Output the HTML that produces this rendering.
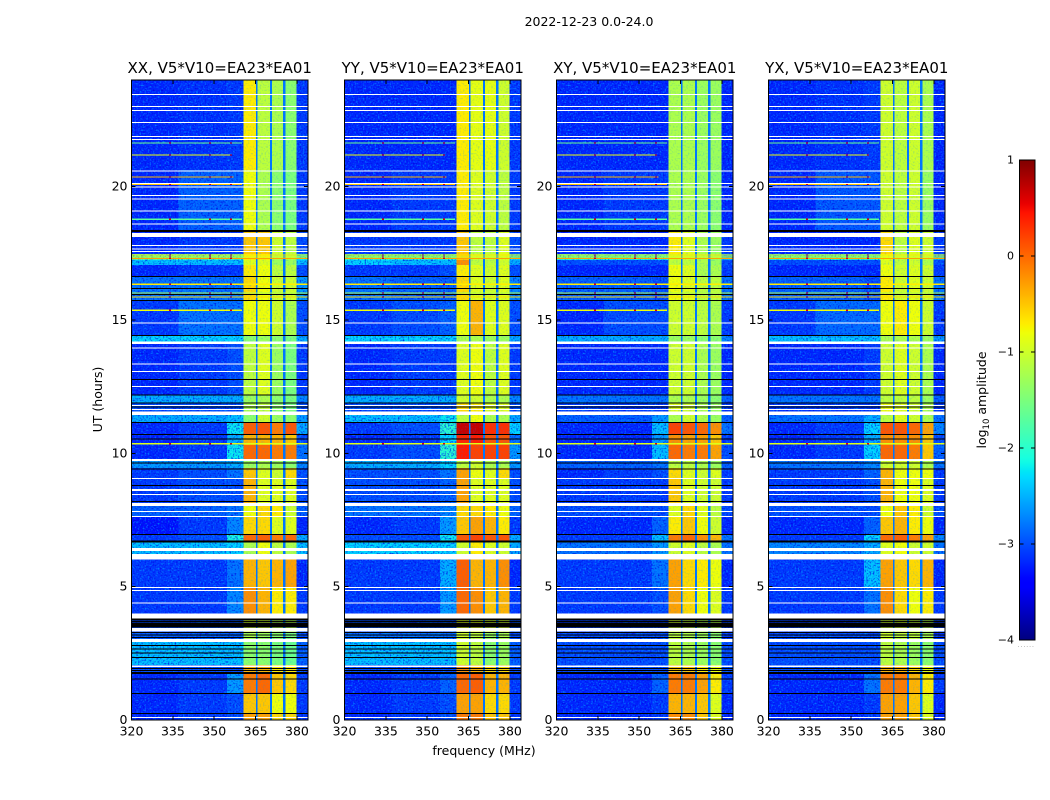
<!DOCTYPE html>
<html>
<head>
<meta charset="utf-8">
<title>2022-12-23 amplitude waterfall</title>
<style>
html,body{margin:0;padding:0;background:#fff;}
svg{display:block;font-family:"DejaVu Sans","Liberation Sans",sans-serif;fill:#000;}
</style>
</head>
<body>
<svg id="figure" xmlns="http://www.w3.org/2000/svg" width="1050" height="800" viewBox="0 0 1050 800">
  <defs>
    <filter id="speck-light" x="0" y="0" width="100%" height="100%" color-interpolation-filters="sRGB">
      <feTurbulence type="fractalNoise" baseFrequency="0.6" numOctaves="1" seed="3"/>
      <feColorMatrix type="matrix" values="0 0 0 0 0  0 0 0 0 0.55  0 0 0 0 1  3 0 0 0 -1.5"/>
    </filter>
    <filter id="speck-dark" x="0" y="0" width="100%" height="100%" color-interpolation-filters="sRGB">
      <feTurbulence type="fractalNoise" baseFrequency="0.6" numOctaves="1" seed="11"/>
      <feColorMatrix type="matrix" values="0 0 0 0 0  0 0 0 0 0  0 0 0 0 0.88  2.6 0 0 0 -1.3"/>
    </filter>
    <linearGradient id="colorbar-gradient" x1="0" y1="1" x2="0" y2="0"></linearGradient>
  </defs>
  <text x="589" y="26" font-size="12.5" text-anchor="middle">2022-12-23 0.0-24.0</text>
  <text transform="translate(102,399.5) rotate(-90)" font-size="12.5" text-anchor="middle">UT (hours)</text>
  <text x="484" y="755" font-size="12.5" text-anchor="middle">frequency (MHz)</text>
  <text transform="translate(986,400) rotate(-90)" font-size="12.5" text-anchor="middle">log<tspan font-size="8.5" dy="3">10</tspan><tspan dy="-3"> amplitude</tspan></text>
  <g id="panels"></g>
  <g id="colorbar"></g>
</svg>
<script>
// ---- chart data ----
const panelTitles = ["XX, V5*V10=EA23*EA01", "YY, V5*V10=EA23*EA01", "XY, V5*V10=EA23*EA01", "YX, V5*V10=EA23*EA01"];
const xTicks = [320, 335, 350, 365, 380];
const yTicks = [0, 5, 10, 15, 20];
const cbTicks = [1, 0, -1, -2, -3, -4];
const cbLabels = ["1", "0", "\u22121", "\u22122", "\u22123", "\u22124"];
// frequency band edges (MHz): three background bands, four windows, right edge band
const bandStart = [320, 337, 354.6, 360.6, 365.6, 370.8, 375.7, 379.9];
const bandEnd = [337, 354.6, 360.6, 365.1, 370.2, 375, 379.9, 384];
// narrow notches between the windows (MHz)
const notchStart = [365.1, 370.2, 375];
const notchEnd = [365.7, 370.9, 375.8];
const notchLevel = -2.8;
// time row edges (UT hours), descending
const timeEdges = [24, 20.63, 18.30, 17.48, 17.25, 17.06, 16.65, 15.75, 14.40, 14.18, 12.19, 11.89, 11.44, 11.18, 10.73, 10.31, 9.79, 9.45, 9.08, 8.14, 7.65, 6.98, 6.68, 6.04, 4.99, 3.98, 3.30, 2.93, 2.06, 1.73, 1.01, 0.26, 0];
// log10 amplitude per time row and band
const levelsXX = [
[-3.2,-3.15,-3.1,-.7,-1.1,-1.2,-1.4,-3.1],[-3.2,-2.9,-2.9,-.8,-1.2,-1.4,-1.5,-3.1],[-3.2,-3.1,-3.1,-.5,-.5,-1,-1.1,-3],[-1.7,-1.8,-1.9,-.7,-.7,-1.2,-1.2,-2.2],
[-2.4,-2.4,-2.4,-.9,-.9,-1.3,-1.3,-2.4],[-3.2,-3.1,-3.1,-.7,-.8,-1.1,-1.1,-3],[-2.8,-2.8,-2.8,-.6,-.8,-1,-1,-2.6],[-3.1,-2.8,-2.8,-.8,-.8,-1,-1.2,-3],
[-2.3,-2.3,-2.3,-1.4,-1.3,-1.4,-1.5,-2.5],[-3.2,-3.1,-3,-1.1,-.9,-1.3,-1.5,-3.1],[-2.5,-2.5,-2.5,-1.3,-1.2,-1.4,-1.5,-2.7],[-3,-3,-3,-1.2,-1.1,-1.4,-1.5,-3],
[-2.5,-2.5,-2.4,-1.4,-1,-1.3,-1.4,-2.6],[-3.2,-3.1,-2.2,.05,.1,-.1,.1,-2.5],[-3.2,-3.1,-2.5,-.4,-.4,-.4,-.5,-3],[-3.2,-3.1,-2.2,0,0,-.1,-.1,-2.8],
[-2.6,-2.6,-2.5,-1.3,-1.2,-1.3,-1.4,-2.7],[-3.1,-3,-2.8,-.5,-.9,-1,-.6,-3],[-3.1,-3,-3,-.4,-.9,-.9,-.9,-3],[-2.9,-2.9,-2.8,-.8,-.6,-.7,-1,-2.9],
[-3.3,-3.1,-2.7,-.6,-.6,-.9,-.9,-3.2],[-3.1,-3,-2.1,0,.05,-.1,0,-2.5],[-2.4,-2.4,-2.3,-1.2,-.8,-1.1,-1.2,-2.4],[-3.1,-3.1,-2.8,-.4,-.5,-.4,-.3,-3.2],
[-3.1,-3.1,-2.7,-.2,-.4,-.7,-.7,-3.1],[-3,-3,-3,-1,-1,-1.2,-1.2,-3],[-2.9,-2.9,-2.9,-1.2,-1.3,-1.4,-1.5,-3],[-2.4,-2.4,-2.4,-1.4,-1.4,-1.5,-1.6,-2.9],
[-3,-3,-3,-.4,-.4,-.7,-.7,-3],[-3.2,-3.1,-2.6,-.1,0,-.5,-.6,-3.1],[-3.2,-3.1,-3,-.5,-.5,-.8,-.8,-3.1],[-3.2,-3.1,-3,-.3,-.3,-.6,-.6,-3.1]];
const levelsYY = [
[-3.2,-3.2,-3.2,-.7,-.85,-.85,-1,-3.1],[-3.2,-3.1,-3.1,-.7,-.9,-1,-1.1,-3.1],[-3.1,-3.1,-3.1,-.5,-1.1,-1.1,-.9,-3],[-1.9,-2,-2,-.5,-1,-1.1,-.9,-2.3],
[-2.3,-2.4,-2.4,-.2,-1.1,-1.1,-1,-2.5],[-3.1,-3.1,-3,-.7,-.9,-1,-.9,-3],[-2.8,-2.9,-2.9,-.6,-.9,-1,-.9,-2.7],[-3.1,-3,-2.9,-.8,-.4,-.9,-.9,-3],
[-2.3,-2.3,-2.3,-1.2,-1.2,-1.3,-1.3,-2.5],[-3.2,-3.1,-3.1,-.9,-.8,-1.1,-.9,-3.1],[-2.5,-2.5,-2.5,-1,-1,-1.2,-1.2,-2.7],[-3,-3,-3,-.6,-.7,-.9,-.9,-3],
[-2.4,-2.4,-2.2,-1.1,-.8,-1.2,-1.2,-2.5],[-3.1,-3,-2,.7,.7,.3,.3,-2.3],[-3.2,-3.1,-2.3,.35,.4,.1,.1,-2.8],[-3.1,-3,-2,.4,.2,.2,.2,-2.6],
[-2.5,-2.5,-2.3,-1.1,-1,-1.2,-1.2,-2.6],[-3,-3,-2.8,-.3,-.8,-.9,-.6,-3],[-3,-3,-2.9,-.3,-.9,-.9,-.9,-3],[-2.8,-2.8,-2.7,-.6,-.6,-.7,-.8,-2.9],
[-3.2,-3.1,-2.6,-.5,-.3,-.4,-.7,-3.1],[-3,-3,-2.2,.1,.2,.1,.1,-2.5],[-2.3,-2.3,-2.3,-1,-.7,-.9,-1,-2.5],[-3.1,-3.1,-2.5,.05,-.4,-.4,-.2,-3.2],
[-3.1,-3.1,-2.6,0,-.2,-.5,-.4,-3.1],[-3,-3,-3,-.9,-.9,-1,-1,-3],[-2.8,-2.8,-2.8,-1,-1.1,-1.3,-1.2,-3],[-2.4,-2.4,-2.4,-1,-1.1,-1.4,-1.3,-2.9],
[-3,-3,-3,-.2,-.4,-.6,-.6,-3],[-3.2,-3.1,-2.9,0,.05,-.4,-.4,-3.1],[-3.2,-3.1,-3,-.3,-.3,-.6,-.6,-3.1],[-3.2,-3.1,-3,-.1,-.1,-.5,-.5,-3.1]];
const levelsXY = [
[-3.2,-3.2,-3.2,-1.2,-1.2,-1.3,-1.3,-3.2],[-3.2,-3.1,-3.1,-1.2,-1.2,-1.3,-1.4,-3.2],[-3.2,-3.2,-3.2,-.7,-.9,-1.2,-1.3,-3.1],[-2,-2.1,-2.1,-1,-1,-1.2,-1.3,-2.5],
[-3,-3,-3,-1.1,-1.1,-1.2,-1.3,-3],[-3.2,-3.2,-3.2,-.8,-.9,-1.2,-1.2,-3.1],[-2.9,-2.9,-3,-.8,-.9,-1.1,-1.1,-2.8],[-3.2,-3,-3,-1,-1,-1.1,-1.2,-3.1],
[-2.5,-2.5,-2.5,-1.3,-1.3,-1.4,-1.4,-2.7],[-3.2,-3.2,-3.2,-1,-1,-1.2,-1.3,-3.2],[-2.8,-2.8,-2.8,-1.2,-1.2,-1.3,-1.4,-2.9],[-3.1,-3.1,-3.1,-.9,-1,-1.2,-1.3,-3.1],
[-2.9,-2.9,-2.6,-1.2,-1,-1.2,-1.3,-2.9],[-3.2,-3.2,-2.4,.2,.1,0,-.2,-2.8],[-3.2,-3.2,-2.6,-.2,-.3,-.3,-.5,-3.1],[-3.2,-3.2,-2.4,0,-.1,-.1,-.3,-3],
[-2.9,-2.9,-2.8,-1.1,-1.1,-1.2,-1.3,-2.9],[-3.2,-3.1,-3,-.6,-.9,-1,-.9,-3.1],[-3.1,-3.1,-3.1,-.5,-.9,-1,-1,-3.1],[-3,-3,-3,-.9,-.6,-.9,-1.1,-3],
[-3.2,-3.2,-2.9,-.7,-.5,-.8,-1,-3.2],[-3.1,-3.1,-2.4,-.1,0,-.2,-.4,-2.8],[-2.8,-2.8,-2.6,-1,-.9,-1.1,-1.2,-2.8],[-3.1,-3.1,-2.8,-.3,-.6,-.7,-.8,-3.2],
[-3.1,-3.1,-3,-.3,-.6,-.8,-.9,-3.1],[-3.1,-3.1,-3.1,-1,-1.1,-1.2,-1.2,-3.1],[-3,-3,-3,-1.1,-1.2,-1.3,-1.4,-3.1],[-3,-3,-3,-1.1,-1.2,-1.3,-1.4,-3],
[-3,-3,-3,-.5,-.5,-.7,-.8,-3],[-3.2,-3.2,-2.9,-.1,-.1,-.3,-.7,-3.1],[-3.2,-3.2,-3.1,-.4,-.4,-.5,-.9,-3.2],[-3.2,-3.2,-3.1,-.2,-.2,-.5,-.9,-3.2]];
const levelsYX = [
[-3.2,-3.15,-3.1,-1,-1.1,-1,-1.2,-3.2],[-3.2,-2.95,-2.95,-1,-1.1,-1,-1.3,-3.2],[-3.2,-3.2,-3.2,-.6,-1.1,-.9,-1,-3.1],[-2,-2,-2.1,-.8,-1.1,-1,-1.1,-2.5],
[-3,-3,-3,-.9,-1.1,-1,-1.2,-3],[-3.2,-3.2,-3.2,-.8,-1,-.9,-1,-3.1],[-2.9,-2.9,-3,-.7,-1,-.9,-1,-2.8],[-3.1,-2.85,-2.85,-.8,-.7,-.8,-1,-3.1],
[-2.4,-2.4,-2.4,-1.2,-1.2,-1.2,-1.3,-2.6],[-3.2,-3.2,-3.1,-1,-.9,-1,-1.2,-3.2],[-2.8,-2.8,-2.8,-1.1,-1.1,-1.1,-1.3,-2.9],[-3.1,-3.1,-3.1,-.8,-.9,-1,-1.2,-3.1],
[-2.8,-2.8,-2.5,-1.1,-.9,-1,-1.2,-2.8],[-3.2,-3.1,-2.3,.1,.1,0,-.3,-2.7],[-3.2,-3.1,-2.5,-.2,-.2,-.2,-.5,-3],[-3.2,-3.1,-2.3,0,0,-.1,-.5,-2.9],
[-2.8,-2.8,-2.7,-1,-1,-1,-1.2,-2.8],[-3.1,-3.1,-2.9,-.4,-.8,-.8,-.8,-3.1],[-3.1,-3.1,-3,-.4,-.8,-.8,-.9,-3.1],[-3,-3,-3,-.8,-.5,-.7,-1,-3],
[-3.2,-3.2,-2.9,-.5,-.4,-.7,-.8,-3.2],[-3.1,-3.1,-2.3,0,.05,-.1,-.3,-2.7],[-2.7,-2.7,-2.5,-.9,-.8,-1,-1,-2.8],[-3.1,-3.1,-2.4,-.3,-.5,-.6,-.4,-3.2],
[-3.1,-3.1,-2.8,-.2,-.6,-.8,-.7,-3.1],[-3.1,-3.1,-3.1,-1,-1,-1.1,-1.2,-3.1],[-3,-3,-3,-1,-1.1,-1.1,-1.2,-3.1],[-3,-3,-3,-1.1,-1.2,-1.3,-1.4,-3],
[-3,-3,-3,-.4,-.4,-.6,-.8,-3],[-3.2,-3.2,-2.8,-.1,-.1,-.4,-.7,-3.1],[-3.2,-3.2,-3.1,-.3,-.3,-.5,-.9,-3.2],[-3.2,-3.2,-3.1,-.3,-.3,-.5,-.9,-3.2]];
// interference rows: UT, level, last affected frequency
const rfiTimes = [21.66, 21.21, 20.39, 20.10, 18.80, 17.46, 17.38, 17.33, 16.36, 16.04, 15.89, 15.39, 10.38, 3.77, 2.04];
const rfiLevels = [-1.6, -0.8, -0.4, -0.5, -1.7, -0.7, -0.9, -0.3, -0.7, -1.2, -0.6, -0.8, -0.9, 0.4, -0.7];
const rfiEnds = [360, 356, 357, 360, 360, 384, 384, 384, 384, 384, 384, 360, 384, 384, 384];
// strong channels on those rows (MHz)
const rfiSpots = [334, 348.5, 356];
const rfiSpotLevel = 0.6;
// flagged-out rows (blank) and zero rows (black)
const blankLines = [23.46, 23.00, 22.86, 22.41, 21.88, 21.77, 20.59, 20.11, 19.99, 19.66, 19.53, 19.08, 18.60, 17.79, 17.66, 17.57, 14.88, 13.95, 13.35, 13.06, 12.51, 11.79, 11.65, 9.06, 8.45, 7.81, 7.64, 6.03, 4.96, 4.86, 4.38, 0.10];
const blankBandTop = [18.27, 14.19, 11.56, 9.79, 8.66, 8.13, 6.45, 6.23, 3.99, 3.45, 3.04, 2.05];
const blankBandBottom = [18.12, 14.10, 11.44, 9.71, 8.59, 8.03, 6.33, 6.06, 3.81, 3.31, 2.93, 1.99];
const blackLines = [16.64, 16.18, 15.96, 15.74, 14.41, 12.76, 12.19, 11.88, 11.73, 11.16, 10.71, 10.53, 9.63, 9.42, 8.79, 8.19, 6.96, 6.72, 6.68, 3.69, 3.29, 3.19, 3.10, 2.79, 2.67, 2.51, 2.35, 1.93, 1.86, 1.53, 0.99, 0.25];
const blackBandTop = [18.38, 3.80, 3.65, 1.80];
const blackBandBottom = [18.30, 3.74, 3.46, 1.73];

// ---- layout ----
const panelLefts = [131.5, 344.5, 556.5, 768.5];
const panelLevels = [levelsXX, levelsYY, levelsXY, levelsYX];
const panelKeys = ["xx", "yy", "xy", "yx"];
const plotW = 176.5, plotTop = 80, plotBottom = 720;
const fMin = 320, fMax = 384, tMin = 0, tMax = 24, cMin = -4, cMax = 1;
const cbLeft = 1019.5, cbW = 15.5, cbTop = 160, cbBottom = 640;
const SVGNS = "http://www.w3.org/2000/svg";

function yOf(ut) { return plotBottom - (ut - tMin) / (tMax - tMin) * (plotBottom - plotTop); }
function xOf(left, f) { return left + (f - fMin) / (fMax - fMin) * plotW; }
function cbY(v) { return cbBottom - (v - cMin) / (cMax - cMin) * (cbBottom - cbTop); }
function pw(x, pts) {
  for (let i = 1; i < pts.length; i++) {
    if (x <= pts[i][0]) {
      const a = pts[i - 1], b = pts[i];
      return a[1] + (b[1] - a[1]) * (x - a[0]) / (b[0] - a[0]);
    }
  }
  return pts[pts.length - 1][1];
}
function jet(t) {
  t = Math.max(0, Math.min(1, t));
  const r = pw(t, [[0, 0], [.35, 0], [.66, 1], [.89, 1], [1, .5]]);
  const g = pw(t, [[0, 0], [.125, 0], [.375, 1], [.64, 1], [.91, 0], [1, 0]]);
  const b = pw(t, [[0, .5], [.11, 1], [.34, 1], [.65, 0], [1, 0]]);
  return "rgb(" + Math.round(r * 255) + "," + Math.round(g * 255) + "," + Math.round(b * 255) + ")";
}
function colorOf(v) { return jet((v - cMin) / (cMax - cMin)); }
function mk(tag, attrs, parent) {
  const el = document.createElementNS(SVGNS, tag);
  for (const k in attrs) el.setAttribute(k, attrs[k]);
  parent.appendChild(el);
  return el;
}
function rowRect(parent, x0, x1, top, bottom, fill) {
  return mk("rect", { x: x0, y: top, width: Math.max(x1 - x0, .5), height: Math.max(bottom - top, 1), fill: fill, "shape-rendering": "crispEdges" }, parent);
}
function tickLine(parent, x1, y1, x2, y2) {
  return mk("line", { x1: x1, y1: y1, x2: x2, y2: y2, stroke: "#000", "stroke-width": 1, "shape-rendering": "crispEdges" }, parent);
}

const panelsRoot = document.getElementById("panels");
panelLefts.forEach(function (left, p) {
  const right = left + plotW;
  const key = panelKeys[p];
  const levels = panelLevels[p];
  const g = mk("g", {}, panelsRoot);
  
  

  const title = mk("text", { x: left + plotW / 2, y: 73, "font-size": 15, "text-anchor": "middle" }, g);
  title.textContent = panelTitles[p];
  
  

  const heat = mk("g", {}, g);
  
  

  // heatmap cells
  levels.forEach(function (row, r) {
    const top = yOf(timeEdges[r]), bottom = yOf(timeEdges[r + 1]);
    row.forEach(function (v, b) {
      const cell = rowRect(heat, xOf(left, bandStart[b]), xOf(left, bandEnd[b]), top, bottom, colorOf(v));
      
      
    });
    notchStart.forEach(function (f, n) {
      const notch = rowRect(heat, xOf(left, f), xOf(left, notchEnd[n]), top, bottom, colorOf(notchLevel));
      
      
    });
  });

  // receiver noise texture on the background bands
  ["speck-light", "speck-dark"].forEach(function (fid) {
    const n1 = mk("rect", { x: left, y: plotTop, width: xOf(left, 360.6) - left, height: plotBottom - plotTop, fill: "#000", filter: "url(#" + fid + ")" }, g);
    
    
    const n2 = mk("rect", { x: xOf(left, 379.9), y: plotTop, width: right - xOf(left, 379.9), height: plotBottom - plotTop, fill: "#000", filter: "url(#" + fid + ")" }, g);
    
    
  });
  // fainter mottling on the spectral windows
  const n3 = mk("rect", { x: xOf(left, 360.6), y: plotTop, width: xOf(left, 379.9) - xOf(left, 360.6), height: plotBottom - plotTop, fill: "#000", filter: "url(#speck-light)", opacity: 0.28 }, g);
  
  

  // interference rows
  rfiTimes.forEach(function (ut, i) {
    const y = yOf(ut);
    const line = rowRect(g, left, xOf(left, rfiEnds[i]), y, y + 1.2, colorOf(rfiLevels[i]));
    
    
    rfiSpots.forEach(function (f) {
      const spot = rowRect(g, xOf(left, f) - 1, xOf(left, f) + 1, y, y + 1.2, colorOf(rfiSpotLevel));
      
      
    });
  });

  // flagged rows
  blankLines.forEach(function (ut) {
    const y = yOf(ut);
    const line = rowRect(g, left, right, y - .5, y + .5, "#fff");
    
    
  });
  blankBandTop.forEach(function (ut, i) {
    const band = rowRect(g, left, right, yOf(ut), yOf(blankBandBottom[i]), "#fff");
    
    
  });
  blackLines.forEach(function (ut) {
    const y = yOf(ut);
    const line = rowRect(g, left, right, y - .5, y + .5, "#000");
    
    
  });
  blackBandTop.forEach(function (ut, i) {
    const band = rowRect(g, left, right, yOf(ut), yOf(blackBandBottom[i]), "#000");
    
    
  });

  // frame
  const frame = mk("rect", { x: left, y: plotTop, width: plotW, height: plotBottom - plotTop, fill: "none", stroke: "#000", "stroke-width": 1 }, g);
  
  

  // ticks and labels
  xTicks.forEach(function (f) {
    const x = xOf(left, f);
    const t1 = tickLine(g, x, plotBottom, x, plotBottom - 4);
    
    
    const t2 = tickLine(g, x, plotTop, x, plotTop + 4);
    
    
    const lab = mk("text", { x: x, y: 735.5, "font-size": 12.5, "text-anchor": "middle" }, g);
    lab.textContent = String(f);
    
    
  });
  yTicks.forEach(function (ut) {
    const y = yOf(ut);
    const t1 = tickLine(g, left, y, left + 4, y);
    
    
    const t2 = tickLine(g, right, y, right - 4, y);
    
    
    const lab = mk("text", { x: left - 4, y: y + 4, "font-size": 12.5, "text-anchor": "end" }, g);
    lab.textContent = String(ut);
    
    
  });
});

// ---- colorbar ----
const grad = document.getElementById("colorbar-gradient");
for (let i = 0; i <= 100; i++) {
  mk("stop", { offset: (i) + "%", "stop-color": jet(i / 100) }, grad);
}
const cbRoot = document.getElementById("colorbar");
const cbRect = mk("rect", { x: cbLeft, y: cbTop, width: cbW, height: cbBottom - cbTop, fill: "url(#colorbar-gradient)", stroke: "#000", "stroke-width": 1 }, cbRoot);


cbTicks.forEach(function (v, i) {
  const y = cbY(v);
  const t1 = tickLine(cbRoot, cbLeft, y, cbLeft + 4, y);
  
  
  const t2 = tickLine(cbRoot, cbLeft + cbW, y, cbLeft + cbW - 4, y);
  
  
  const lab = mk("text", { x: 1014, y: y + 3.5, "font-size": 11, "text-anchor": "end" }, cbRoot);
  lab.textContent = cbLabels[i];
  
  
});
const cbDots = mk("text", { x: cbLeft + cbW / 2 - 1, y: 647, "font-size": 6, "text-anchor": "middle", fill: "#888", "letter-spacing": "1" }, cbRoot);
cbDots.textContent = "......";


</script>
</body>
</html>
